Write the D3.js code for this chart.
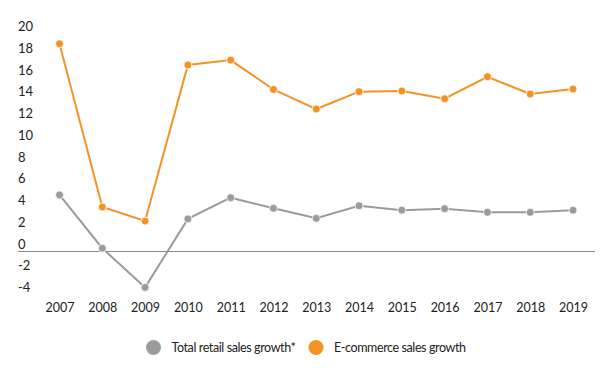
<!DOCTYPE html>
<html>
<head>
<meta charset="utf-8">
<script src="https://cdn.jsdelivr.net/npm/d3@7/dist/d3.min.js"></script>
<style>
    body { margin: 0; background: #fff; }
    svg { display: block; font-family: Lato, "Open Sans", sans-serif; }
</style>
</head>
<body>
<div class="canvas"></div>
<script>
    const years = ["2007", "2008", "2009", "2010", "2011", "2012", "2013", "2014", "2015", "2016", "2017", "2018", "2019"];
    const retailGrowth = [5.2, 0.3, -3.3, 3.0, 4.95, 3.97, 3.05, 4.2, 3.8, 3.94, 3.6, 3.6, 3.8];
    const ecommerceGrowth = [19.1, 4.1, 2.8, 17.15, 17.6, 14.9, 13.1, 14.7, 14.76, 14.05, 16.07, 14.48, 14.94];
    const yTicks = [-4, -2, 0, 2, 4, 6, 8, 10, 12, 14, 16, 18, 20];
    const seriesNames = ["Total retail sales growth*", "E-commerce sales growth"];
    const seriesColors = ["#9b9b9b", "#f39324"];

    (function () {
        const width = 605;
        const height = 370;
        const PLOT_LEFT = 18;
        const PLOT_RIGHT = 595;

        const svg = d3.select(".canvas").append("svg")
            .attr("width", width)
            .attr("height", height);

        const xScale = d3.scalePoint().domain(years).range([59.5, 573]);
        const yScale = d3.scaleLinear().domain([-4, 20]).range([295, 34]);

        // y labels sit just above their tick, left aligned
        svg.append("g")
            .selectAll("text")
            .data(yTicks)
            .join("text")
            .attr("x", PLOT_LEFT)
            .attr("y", d => yScale(d) - 3)
            .attr("font-size", 13)
            .attr("fill", "#222")
            .text(d => d);

        svg.append("line")
            .attr("x1", PLOT_LEFT)
            .attr("x2", PLOT_RIGHT)
            .attr("y1", yScale(0))
            .attr("y2", yScale(0))
            .attr("stroke", "#8a8a8a")
            .attr("stroke-width", 1);

        const xAxis = svg.append("g")
            .attr("transform", "translate(0," + 303 + ")")
            .call(d3.axisBottom(xScale).tickSize(0).tickPadding(0));
        xAxis.select(".domain").remove();
        xAxis.selectAll("text")
            .attr("font-size", 12.5)
            .attr("font-family", "Lato, sans-serif")
            .attr("fill", "#222");

        const line = d3.line()
            .x((d, i) => xScale(years[i]))
            .y(d => yScale(d));

        [retailGrowth, ecommerceGrowth].forEach(function (values, s) {
            const g = svg.append("g");
            g.append("path")
                .datum(values)
                .attr("d", line)
                .attr("fill", "none")
                .attr("stroke", seriesColors[s])
                .attr("stroke-width", 2);
            g.selectAll("circle")
                .data(values)
                .join("circle")
                .attr("cx", (d, i) => xScale(years[i]))
                .attr("cy", d => yScale(d))
                .attr("r", 4)
                .attr("fill", seriesColors[s])
                .attr("stroke", "#fff")
                .attr("stroke-width", 0.8);
        });

        // legend
        const legendX = [153.5, 316];
        const legend = svg.append("g");
        seriesNames.forEach(function (name, s) {
            legend.append("circle")
                .attr("cx", legendX[s])
                .attr("cy", 347.5)
                .attr("r", 7.5)
                .attr("fill", seriesColors[s]);
            legend.append("text")
                .attr("x", legendX[s] + 18)
                .attr("y", 352)
                .attr("font-size", 12.5)
                .attr("letter-spacing", -0.4)
                .attr("fill", "#222")
                .text(name);
        });
    })();
</script>
</body>
</html>
